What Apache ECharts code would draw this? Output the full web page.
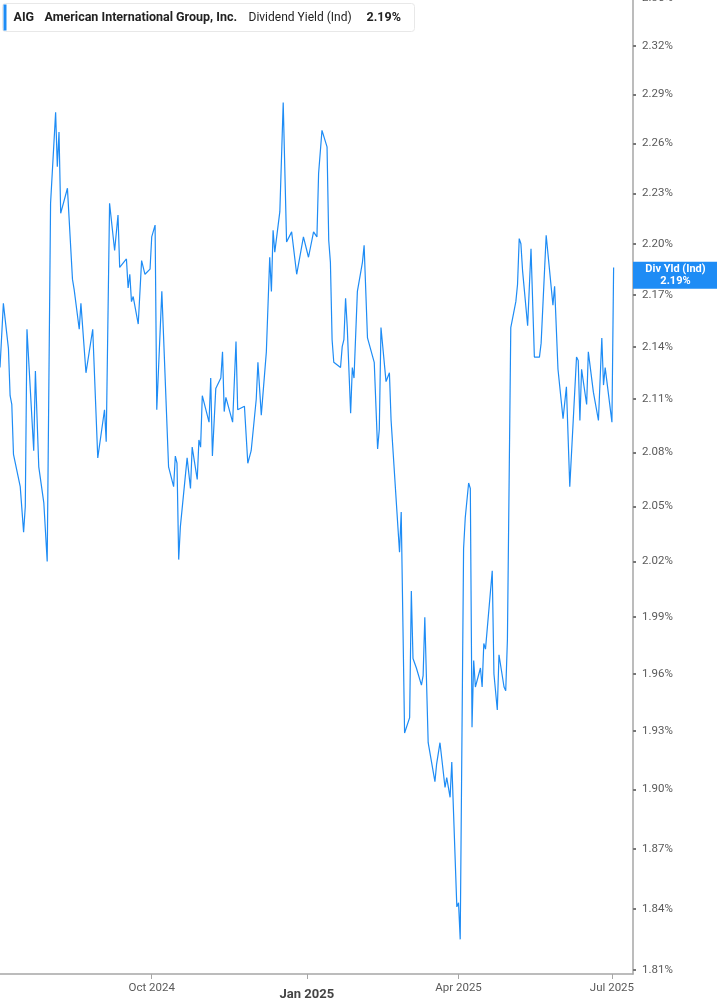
<!DOCTYPE html>
<html>
<head>
<meta charset="utf-8">
<script src="https://cdn.jsdelivr.net/npm/echarts@6/dist/echarts.min.js"></script>
<style>
html, body { margin: 0; padding: 0; background: #fff; }
#main { width: 717px; height: 1005px; }
</style>
</head>
<body>
<div id="main"></div>
<script>
// AIG dividend yield (indicated), daily closes
var dates = [
	'2024-07-03','2024-07-05','2024-07-08','2024-07-09','2024-07-10','2024-07-11','2024-07-15','2024-07-17','2024-07-18','2024-07-19',
	'2024-07-23','2024-07-24','2024-07-25','2024-07-26','2024-07-29','2024-07-31','2024-08-02','2024-08-05','2024-08-06','2024-08-07',
	'2024-08-08','2024-08-12','2024-08-13','2024-08-15','2024-08-16','2024-08-19','2024-08-20','2024-08-23','2024-08-27','2024-08-30',
	'2024-09-03','2024-09-04','2024-09-06','2024-09-09','2024-09-11','2024-09-12','2024-09-16','2024-09-17','2024-09-18','2024-09-19',
	'2024-09-20','2024-09-23','2024-09-25','2024-09-27','2024-09-30','2024-10-01','2024-10-03','2024-10-04','2024-10-07','2024-10-11',
	'2024-10-14','2024-10-15','2024-10-16','2024-10-17','2024-10-18','2024-10-22','2024-10-24','2024-10-25','2024-10-28','2024-10-29',
	'2024-10-30','2024-10-31','2024-11-04','2024-11-05','2024-11-06','2024-11-08','2024-11-11','2024-11-12','2024-11-13','2024-11-14',
	'2024-11-15','2024-11-18','2024-11-20','2024-11-21','2024-11-22','2024-11-25','2024-11-27','2024-11-29','2024-12-02','2024-12-03',
	'2024-12-05','2024-12-08','2024-12-10','2024-12-11','2024-12-12','2024-12-13','2024-12-16','2024-12-18','2024-12-20','2024-12-23',
	'2024-12-26','2024-12-30','2025-01-02','2025-01-05','2025-01-07','2025-01-08','2025-01-10','2025-01-13','2025-01-14','2025-01-15',
	'2025-01-16','2025-01-17','2025-01-21','2025-01-22','2025-01-23','2025-01-24','2025-01-25','2025-01-27','2025-01-28','2025-01-29',
	'2025-01-30','2025-01-31','2025-02-03','2025-02-04','2025-02-06','2025-02-10','2025-02-12','2025-02-13','2025-02-14','2025-02-17',
	'2025-02-19','2025-02-20','2025-02-25','2025-02-26','2025-02-28','2025-03-03','2025-03-04','2025-03-05','2025-03-06','2025-03-07',
	'2025-03-10','2025-03-11','2025-03-12','2025-03-14','2025-03-18','2025-03-19','2025-03-20','2025-03-21','2025-03-24','2025-03-25',
	'2025-03-27','2025-03-28','2025-03-31','2025-04-01','2025-04-02','2025-04-04','2025-04-05','2025-04-07','2025-04-08','2025-04-09',
	'2025-04-10','2025-04-11','2025-04-14','2025-04-15','2025-04-16','2025-04-17','2025-04-21','2025-04-22','2025-04-23','2025-04-24',
	'2025-04-25','2025-04-28','2025-04-29','2025-04-30','2025-05-02','2025-05-05','2025-05-06','2025-05-07','2025-05-08','2025-05-09',
	'2025-05-12','2025-05-14','2025-05-16','2025-05-19','2025-05-20','2025-05-23','2025-05-27','2025-05-28','2025-05-30','2025-06-02',
	'2025-06-04','2025-06-06','2025-06-10','2025-06-11','2025-06-12','2025-06-13','2025-06-16','2025-06-17','2025-06-18','2025-06-20',
	'2025-06-23','2025-06-25','2025-06-26','2025-06-27','2025-07-01','2025-07-02'
];
var yields = [
	2.128, 2.165, 2.139, 2.112, 2.107, 2.079, 2.061, 2.036, 2.050, 2.150,
	2.081, 2.126, 2.126, 2.072, 2.052, 2.020, 2.224, 2.279, 2.246, 2.267,
	2.218, 2.233, 2.233, 2.179, 2.173, 2.150, 2.165, 2.125, 2.150, 2.077,
	2.104, 2.086, 2.224, 2.196, 2.217, 2.186, 2.191, 2.174, 2.182, 2.166,
	2.169, 2.153, 2.190, 2.182, 2.185, 2.204, 2.211, 2.104, 2.172, 2.072,
	2.061, 2.078, 2.074, 2.021, 2.039, 2.077, 2.060, 2.083, 2.065, 2.087,
	2.083, 2.112, 2.097, 2.122, 2.078, 2.116, 2.122, 2.137, 2.103, 2.111,
	2.111, 2.097, 2.143, 2.104, 2.104, 2.106, 2.074, 2.081, 2.110, 2.131,
	2.101, 2.137, 2.192, 2.172, 2.208, 2.195, 2.219, 2.285, 2.201, 2.207,
	2.182, 2.204, 2.192, 2.207, 2.204, 2.242, 2.268, 2.258, 2.202, 2.189,
	2.144, 2.131, 2.128, 2.140, 2.144, 2.168, 2.151, 2.102, 2.128, 2.122,
	2.122, 2.172, 2.189, 2.199, 2.145, 2.131, 2.082, 2.093, 2.151, 2.120,
	2.125, 2.098, 2.025, 2.047, 1.929, 1.937, 2.004, 1.968, 1.968, 1.963,
	1.954, 1.959, 1.990, 1.924, 1.904, 1.913, 1.912, 1.924, 1.901, 1.906,
	1.896, 1.914, 1.841, 1.843, 1.825, 2.027, 2.044, 2.063, 2.060, 1.932,
	1.967, 1.953, 1.963, 1.953, 1.976, 1.973, 2.015, 1.960, 1.959, 1.941,
	1.970, 1.953, 1.951, 1.978, 2.151, 2.166, 2.176, 2.203, 2.200, 2.184,
	2.152, 2.197, 2.134, 2.134, 2.142, 2.205, 2.164, 2.175, 2.127, 2.099,
	2.117, 2.061, 2.134, 2.132, 2.098, 2.127, 2.107, 2.137, 2.136, 2.114,
	2.098, 2.145, 2.118, 2.128, 2.097, 2.186
];
// y 轴刻度（对数刻度）
var yTicks = [1.81, 1.84, 1.87, 1.90, 1.93, 1.96, 1.99, 2.02, 2.05, 2.08, 2.11, 2.14, 2.17, 2.20, 2.23, 2.26, 2.29, 2.32, 2.35];
var xTicks = ['2024-10-01', '2025-01-01', '2025-04-01', '2025-07-01'];
var xTickLabels = ['Oct 2024', 'Jan 2025', 'Apr 2025', 'Jul 2025'];
var yRange = [1.8081, 2.3501];
var xRange = ['2024-07-03', '2025-07-13 12:00:00'];

var blue = '#1e8cf5';
var lastYield = yields[yields.length - 1];

function toTime(s) {
	return echarts.time.parse(s).getTime();
}

// log scale drawn on a value axis of ln(yield); x is a plain timestamp axis
var lineData = [];
for (var i = 0; i < dates.length; i++) {
	lineData.push([toTime(dates[i]), Math.log(yields[i])]);
}
var xTickTimes = xTicks.map(toTime);

var myChart = echarts.init(document.getElementById('main'));
var option = {
	backgroundColor: '#fff',
	animation: false,
	grid: {
		left: 0,
		right: 84,
		top: -2,
		bottom: 31,
		containLabel: false,
		outerBoundsMode: 'none'
	},
	xAxis: {
		type: 'value',
		min: toTime(xRange[0]),
		max: toTime(xRange[1]),
		axisLine: { show: true, lineStyle: { color: '#a6a6a6', width: 1.5 } },
		axisTick: {
			show: true,
			length: 5,
			customValues: xTickTimes,
			lineStyle: { color: '#a6a6a6', width: 1 }
		},
		splitLine: { show: false },
		axisLabel: {
			customValues: xTickTimes,
			margin: 8,
			color: '#5a5a5a',
			fontFamily: 'Roboto',
			fontSize: 11.5,
			formatter: function(value) {
				var idx = xTickTimes.indexOf(value);
				if (idx < 0) return '';
				var txt = xTickLabels[idx];
				if (txt.indexOf('Jan') === 0) return '{yr|' + txt + '}';
				return txt;
			},
			rich: {
				yr: { fontWeight: 'bold', fontSize: 13, color: '#444', fontFamily: 'Roboto', padding: [6, 0, 0, 0] }
			}
		}
	},
	yAxis: {
		type: 'value',
		position: 'right',
		min: Math.log(yRange[0]),
		max: Math.log(yRange[1]),
		axisLine: { show: true, lineStyle: { color: '#a6a6a6', width: 1.5 } },
		axisTick: {
			show: true,
			length: 3,
			customValues: yTicks.map(Math.log),
			lineStyle: { color: '#777', width: 2 }
		},
		splitLine: { show: false },
		axisLabel: {
			customValues: yTicks.map(Math.log),
			margin: 9,
			color: '#5a5a5a',
			fontFamily: 'Roboto',
			fontSize: 11.5,
			formatter: function(v) {
				return Math.exp(v).toFixed(2) + '%';
			}
		}
	},
	series: [{
		name: 'Div Yld (Ind)',
		type: 'line',
		data: lineData,
		clip: false,
		showSymbol: false,
		symbol: 'none',
		lineStyle: { color: blue, width: 1.2 },
		markLine: {
			silent: true,
			symbol: 'none',
			z: 10,
			lineStyle: { color: 'rgba(0,0,0,0)', width: 0, type: 'solid' },
			label: {
				show: true,
				position: 'end',
				distance: 42.5,
				formatter: 'Div Yld (Ind)\n' + lastYield.toFixed(2) + '%',
				backgroundColor: blue,
				color: '#fff',
				fontWeight: 'bold',
				fontFamily: 'Roboto',
				fontSize: 11,
				lineHeight: 12.5,
				width: 85,
				align: 'center',
				verticalAlign: 'middle',
				padding: [1, 0, 1, 0]
			},
			data: [{ yAxis: Math.log(lastYield) }]
		}
	}],
	graphic: [{
		type: 'group',
		left: 2,
		top: 3,
		children: [{
			type: 'rect',
			shape: { x: 0, y: 0, width: 412, height: 28, r: 3 },
			style: { fill: '#fff', stroke: '#e8e8e8', lineWidth: 1 }
		}, {
			type: 'rect',
			shape: { x: 1, y: 1, width: 3, height: 26 },
			style: { fill: blue }
		}, {
			type: 'text',
			style: { x: 11, y: 14, text: 'AIG', fill: '#222', font: 'bold 12.5px Roboto', verticalAlign: 'middle' }
		}, {
			type: 'text',
			style: { x: 42, y: 14, text: 'American International Group, Inc.', fill: '#222', font: 'bold 12.5px Roboto', verticalAlign: 'middle' }
		}, {
			type: 'text',
			style: { x: 246, y: 14, text: 'Dividend Yield (Ind)', fill: '#222', font: '12px Roboto', verticalAlign: 'middle' }
		}, {
			type: 'text',
			style: { x: 364, y: 14, text: lastYield.toFixed(2) + '%', fill: '#222', font: 'bold 12.5px Roboto', verticalAlign: 'middle' }
		}]
	}]
};
myChart.setOption(option);
</script>
</body>
</html>
